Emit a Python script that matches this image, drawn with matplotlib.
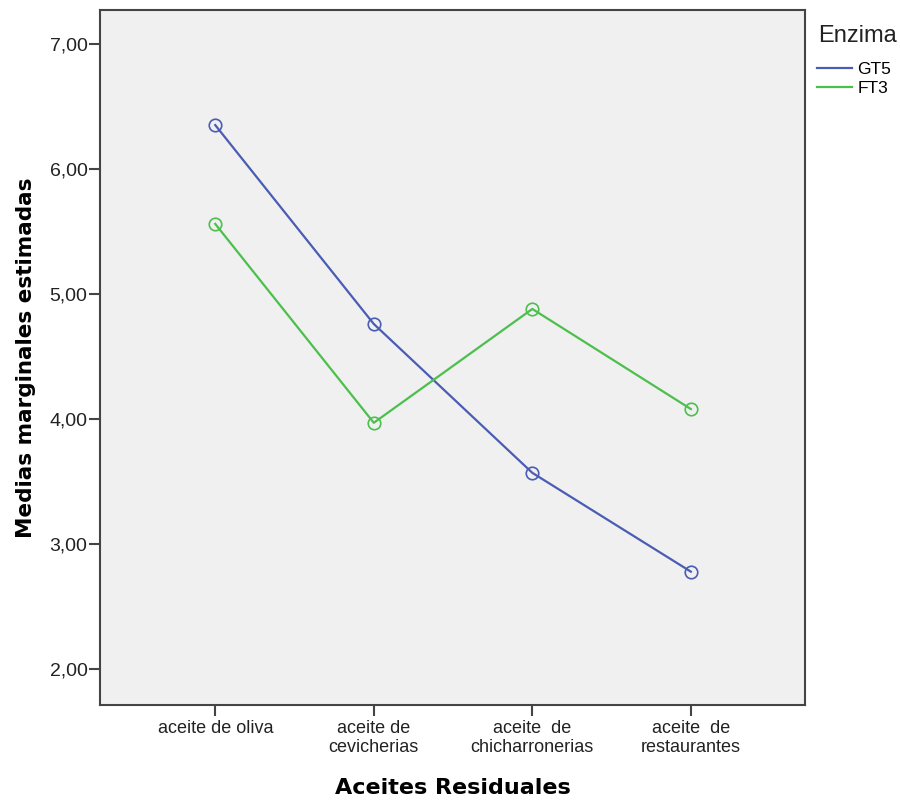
import matplotlib.pyplot as plt
from matplotlib.ticker import FuncFormatter

categorias = ["aceite de oliva", "aceite de\ncevicherias",
              "aceite  de\nchicharronerias", "aceite  de\nrestaurantes"]
gt5 = [6.35, 4.76, 3.57, 2.78]
ft3 = [5.56, 3.97, 4.88, 4.08]
y_ticks = [2, 3, 4, 5, 6, 7]

plt.rcParams["font.family"] = ["Liberation Sans", "DejaVu Sans"]

fig = plt.figure(figsize=(9, 8), dpi=100)
ax = fig.add_axes([100 / 900, 95 / 800, 705 / 900, 695 / 800])
ax.set_facecolor("#f0f0f0")

x = range(len(categorias))
ax.plot(x, gt5, color="#4a5cb4", lw=1.6, marker="o", ms=9, mfc="none",
        mew=1.2, label="GT5")
ax.plot(x, ft3, color="#4cbf4c", lw=1.6, marker="o", ms=9, mfc="none",
        mew=1.2, label="FT3")

ax.set_xlim(-0.727, 3.72)
ax.set_ylim(1.714, 7.27)
ax.set_xticks(list(x))
ax.set_xticklabels(categorias, fontsize=13, color="#222222", linespacing=1.15)
ax.set_yticks(y_ticks)
ax.yaxis.set_major_formatter(FuncFormatter(lambda v, p: f"{v:.2f}".replace(".", ",")))
ax.tick_params(axis="y", labelsize=14, direction="out", length=8, width=1.5,
               color="#444444", pad=1, labelcolor="#222222")
ax.tick_params(axis="x", direction="out", length=8, width=1.5,
               color="#444444", pad=3)
for s in ax.spines.values():
    s.set_color("#444444")
    s.set_linewidth(1.5)

ax.set_xlabel("Aceites Residuales", fontsize=16, fontweight="bold",
              family="DejaVu Sans", labelpad=16)
ax.set_ylabel("Medias marginales estimadas", fontsize=15.5, fontweight="bold",
              family="DejaVu Sans", labelpad=10)

# legend title drawn on its own so the gap to the entries can be set
fig.text(818 / 900, 1 - 36 / 800, "Enzima", fontsize=17, va="center",
         ha="left", color="#222222")
leg = fig.legend(loc="upper left", bbox_to_anchor=(814 / 900, 1 - 58 / 800),
                 frameon=False, fontsize=12.5, handlelength=2.0,
                 handletextpad=0.3, labelspacing=0.25, borderaxespad=0,
                 borderpad=0.2)
for h in leg.legend_handles:
    h.set_marker("")

fig.savefig("out.png", dpi=100)
